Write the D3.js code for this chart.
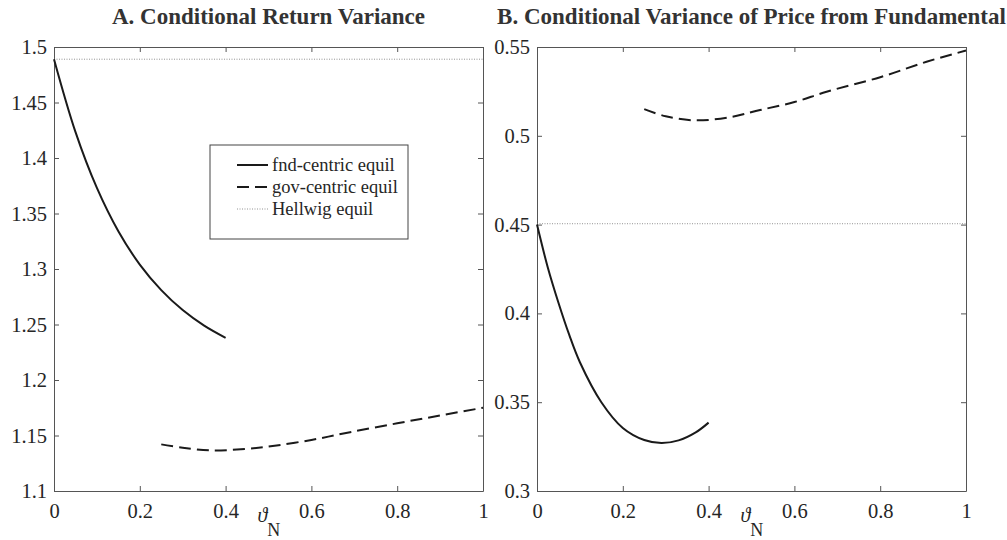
<!DOCTYPE html>
<html>
<head>
<meta charset="utf-8">
<script src="https://cdn.jsdelivr.net/npm/d3@7"></script>
<style>
  html, body { margin: 0; padding: 0; background: #fff; }
  svg { display: block; }
  text { font-family: "Liberation Serif", "Times New Roman", serif; }
</style>
</head>
<body>
<svg id="chart" width="1007" height="540"></svg>
<script>
// ---------------- DATA ----------------
const xTicks = [0, 0.2, 0.4, 0.6, 0.8, 1];
const yTicksA = [1.1, 1.15, 1.2, 1.25, 1.3, 1.35, 1.4, 1.45, 1.5];
const yTicksB = [0.3, 0.35, 0.4, 0.45, 0.5, 0.55];

const titleA = "A. Conditional Return Variance";
const titleB = "B. Conditional Variance of Price from Fundamental";
const legendLabels = ["fnd-centric equil", "gov-centric equil", "Hellwig equil"];

// Panel A: conditional return variance
const fndA_x = [0, 0.05, 0.1, 0.15, 0.2, 0.25, 0.3, 0.35, 0.4];
const fndA_y = [1.489, 1.4235, 1.373, 1.334, 1.304, 1.281, 1.263, 1.249, 1.238];
const govA_x = [0.25, 0.3, 0.37, 0.45, 0.5, 0.6, 0.69, 0.8, 0.9, 1.0];
const govA_y = [1.142, 1.139, 1.1365, 1.138, 1.140, 1.146, 1.153, 1.161, 1.168, 1.175];
const hellA_x = [0, 1];
const hellA_y = [1.489, 1.489];

// Panel B: conditional variance of price from fundamental
const fndB_x = [0, 0.025, 0.05, 0.075, 0.1, 0.15, 0.2, 0.25, 0.29, 0.33, 0.37, 0.4];
const fndB_y = [0.45, 0.426, 0.406, 0.388, 0.3725, 0.350, 0.3355, 0.3287, 0.327, 0.3285, 0.333, 0.3385];
const govB_x = [0.25, 0.3, 0.37, 0.45, 0.52, 0.6, 0.675, 0.8, 0.908, 1.0];
const govB_y = [0.515, 0.511, 0.5087, 0.5105, 0.5145, 0.519, 0.5248, 0.533, 0.5417, 0.548];
const hellB_x = [0, 1];
const hellB_y = [0.4505, 0.4505];

// ---------------- DRAW ----------------
const svg = d3.select("#chart");
const zip = (xs, ys) => xs.map((x, i) => ({x: x, y: ys[i]}));
const fmt = d => String(+d.toFixed(2));

const panels = [
  {left: 54, right: 483, title: titleA, yDom: [1.1, 1.5], yTicks: yTicksA,
   fnd: zip(fndA_x, fndA_y), gov: zip(govA_x, govA_y), hell: zip(hellA_x, hellA_y), legend: true},
  {left: 537, right: 966, title: titleB, yDom: [0.3, 0.55], yTicks: yTicksB,
   fnd: zip(fndB_x, fndB_y), gov: zip(govB_x, govB_y), hell: zip(hellB_x, hellB_y), legend: false}
];
const plotTop = 47, plotBottom = 491;
const axisColor = "#555";
const textColor = "#262626";

panels.forEach(p => {
  const x = d3.scaleLinear().domain([0, 1]).range([p.left, p.right]);
  const y = d3.scaleLinear().domain(p.yDom).range([plotBottom, plotTop]);
  const g = svg.append("g");

  const styleAxis = sel => {
    sel.select(".domain").attr("stroke", axisColor).attr("stroke-width", 1).attr("fill", "none");
    sel.selectAll(".tick line").attr("stroke", axisColor).attr("stroke-width", 1);
    sel.selectAll(".tick text").attr("fill", textColor)
      .style("font-family", "'Liberation Serif', serif").style("font-size", "20.5px");
  };
  g.append("g").attr("transform", `translate(0,${plotBottom})`)
    .call(d3.axisBottom(x).tickValues(xTicks).tickFormat(fmt).tickSize(-5).tickSizeOuter(0).tickPadding(12))
    .call(styleAxis);
  g.append("g").attr("transform", `translate(0,${plotTop})`)
    .call(d3.axisTop(x).tickValues(xTicks).tickFormat("").tickSize(-5).tickSizeOuter(0))
    .call(styleAxis);
  g.append("g").attr("transform", `translate(${p.left},0)`)
    .call(d3.axisLeft(y).tickValues(p.yTicks).tickFormat(fmt).tickSize(-5).tickSizeOuter(0).tickPadding(7))
    .call(styleAxis);
  g.append("g").attr("transform", `translate(${p.right},0)`)
    .call(d3.axisRight(y).tickValues(p.yTicks).tickFormat("").tickSize(-5).tickSizeOuter(0))
    .call(styleAxis);

  const line = d3.line().x(d => x(d.x)).y(d => y(d.y)).curve(d3.curveCatmullRom.alpha(0.5));

  g.append("path").datum(p.hell).attr("d", line)
    .attr("fill", "none").attr("stroke", "#777").attr("stroke-width", 0.8)
    .attr("stroke-dasharray", "1,1.5");
  g.append("path").datum(p.fnd).attr("d", line)
    .attr("fill", "none").attr("stroke", "#1a1a1a").attr("stroke-width", 2);
  g.append("path").datum(p.gov).attr("d", line)
    .attr("fill", "none").attr("stroke", "#1a1a1a").attr("stroke-width", 2)
    .attr("stroke-dasharray", "12,6");

  g.append("text").attr("x", (p.left + p.right) / 2).attr("y", 24)
    .attr("text-anchor", "middle").attr("fill", "#333")
    .style("font-size", "23px").style("font-weight", "bold").text(p.title);

  const xl = g.append("text").attr("x", x(0.5) - 11).attr("y", 522)
    .attr("fill", textColor).style("font-size", "20px");
  xl.append("tspan").style("font-style", "italic").text("ϑ");
  xl.append("tspan").attr("dy", 14).style("font-size", "18px").text("N");

  if (p.legend) {
    const lx = 210, ly = 145, lw = 198, lh = 94;
    const lg = g.append("g");
    lg.append("rect").attr("x", lx).attr("y", ly).attr("width", lw).attr("height", lh)
      .attr("fill", "#fff").attr("stroke", "#444").attr("stroke-width", 1);
    const rows = [
      {dash: null, w: 2, c: "#1a1a1a"},
      {dash: "12,6", w: 2, c: "#1a1a1a"},
      {dash: "1,1.5", w: 0.8, c: "#777"}
    ];
    rows.forEach((r, i) => {
      const yy = ly + 20 + i * 22;
      lg.append("line").attr("x1", lx + 27).attr("x2", lx + 58).attr("y1", yy).attr("y2", yy)
        .attr("stroke", r.c).attr("stroke-width", r.w).attr("stroke-dasharray", r.dash);
      lg.append("text").attr("x", lx + 62).attr("y", yy).attr("dy", "0.32em")
        .attr("fill", textColor).style("font-size", "18.5px").text(legendLabels[i]);
    });
  }
});
</script>
</body>
</html>
